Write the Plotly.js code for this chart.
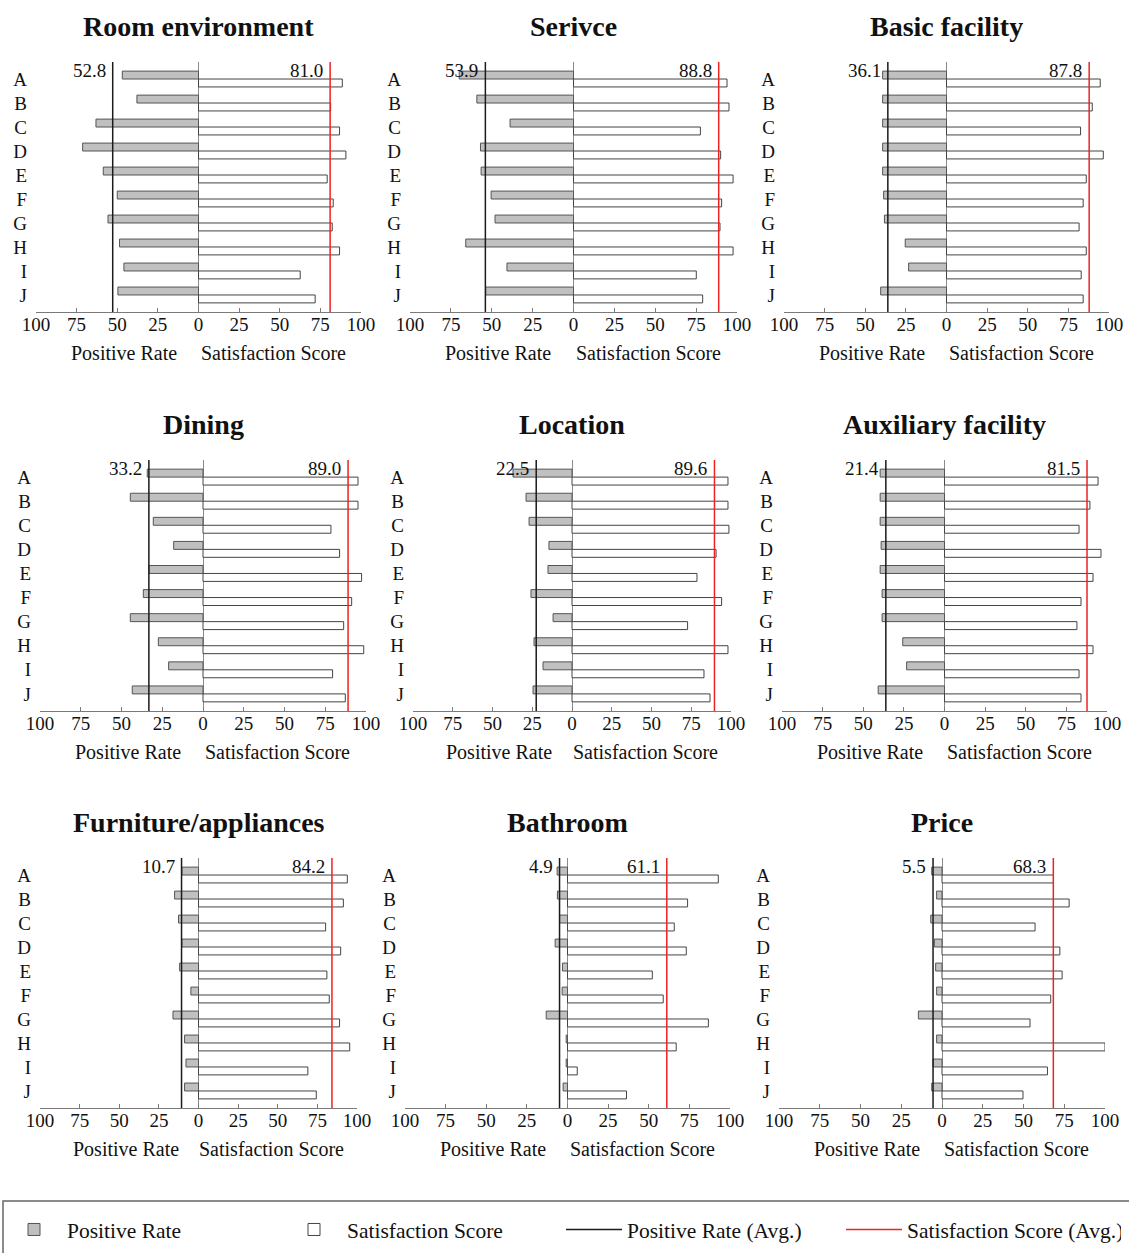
<!DOCTYPE html>
<html><head><meta charset="utf-8">
<script src="https://cdn.plot.ly/plotly-3.0.1.min.js"></script>
<style>html,body{margin:0;padding:0;background:#fff}#chart{width:1129px;height:1253px}</style>
</head><body><div id="chart"></div>
<script>
// ---------- data ----------
const categories = ['A','B','C','D','E','F','G','H','I','J'];
const panelTitles = ['Room environment','Serivce','Basic facility','Dining','Location','Auxiliary facility','Furniture/appliances','Bathroom','Price'];

const posRoom      = [46.9, 37.9, 63.1, 71.3, 58.6, 50.0, 55.7, 48.6, 45.9, 49.6];
const satRoom      = [88.5, 81.3, 86.8, 90.7, 79.2, 82.9, 82.3, 86.8, 62.6, 71.8];
const posService   = [69.9, 59.1, 38.8, 56.9, 56.5, 50.4, 48.0, 65.9, 40.7, 53.7];
const satService   = [93.9, 95.1, 77.6, 90.0, 97.6, 90.6, 89.6, 97.6, 75.1, 79.0];
const posBasic     = [39.3, 39.3, 39.3, 39.3, 39.3, 38.7, 38.2, 25.4, 23.3, 40.5];
const satBasic     = [94.6, 89.7, 82.5, 96.5, 86.0, 84.1, 81.6, 86.0, 82.9, 84.1];
const posDining    = [34.2, 44.6, 30.5, 18.0, 33.1, 36.6, 44.6, 27.4, 21.1, 43.4];
const satDining    = [95.1, 95.1, 78.5, 83.8, 97.3, 91.2, 86.3, 98.6, 79.5, 87.3];
const posLocation  = [37.1, 28.9, 27.0, 14.5, 15.1, 25.8, 11.9, 23.9, 18.2, 24.5];
const satLocation  = [98.1, 98.1, 98.7, 90.6, 78.6, 94.1, 72.7, 98.1, 83.0, 86.8];
const posAuxiliary = [39.6, 39.6, 39.6, 39.0, 39.6, 38.4, 38.4, 25.7, 23.3, 40.8];
const satAuxiliary = [94.5, 89.5, 82.8, 96.3, 91.4, 84.0, 81.5, 91.4, 82.8, 84.0];
const posFurniture = [10.5, 15.1, 12.6, 10.5, 11.9, 4.8, 16.1, 8.8, 7.9, 8.8];
const satFurniture = [93.9, 91.4, 80.2, 89.7, 81.0, 82.5, 89.0, 95.4, 69.0, 74.3];
const posBathroom  = [6.4, 6.2, 4.9, 7.6, 3.1, 3.3, 13.1, 0.8, 0.8, 2.7];
const satBathroom  = [92.8, 73.9, 65.7, 73.1, 52.2, 58.9, 86.7, 66.9, 6.0, 36.3];
const posPrice     = [6.3, 3.3, 6.9, 4.7, 3.9, 3.3, 14.5, 3.3, 5.5, 6.3];
const satPrice     = [68.4, 78.0, 57.1, 72.3, 73.7, 66.7, 54.0, 100.0, 64.7, 49.7];

// average lines (as drawn) and their printed labels
const posAvgLine  = [52.8, 53.9, 36.1, 33.2, 22.5, 36.1, 10.7, 4.9, 5.5];
const satAvgLine  = [81.0, 88.8, 87.8, 89.0, 89.6, 87.7, 84.2, 61.1, 68.3];
const posAvgLabel = ['52.8','53.9','36.1','33.2','22.5','21.4','10.7','4.9','5.5'];
const satAvgLabel = ['81.0','88.8','87.8','89.0','89.6','81.5','84.2','61.1','68.3'];

const tickVals  = [-100, -75, -50, -25, 0, 25, 50, 75, 100];
const tickTexts = ['100','75','50','25','0','25','50','75','100'];

const positiveSeries = [posRoom, posService, posBasic, posDining, posLocation, posAuxiliary, posFurniture, posBathroom, posPrice];
const satisfactionSeries = [satRoom, satService, satBasic, satDining, satLocation, satAuxiliary, satFurniture, satBathroom, satPrice];

// ---------- layout geometry (pixels) ----------
const W = 1129, H = 1253;
const boxes = [
  [36, 361, 62, 312], [410, 737, 62, 312], [784, 1109, 62, 312],
  [40, 366, 460, 711], [413, 731, 460, 711], [782, 1107, 460, 711],
  [40, 357, 858, 1108], [405, 730, 858, 1108], [779, 1105, 858, 1108]
];
const FONT = 'Liberation Serif, Times New Roman, serif';

const traces = [];
const layout = {
  width: W, height: H,
  margin: {l: 0, r: 0, t: 0, b: 0},
  paper_bgcolor: '#fff', plot_bgcolor: 'rgba(0,0,0,0)',
  font: {family: FONT, size: 19, color: '#111'},
  barmode: 'overlay',
  showlegend: true,
  legend: {
    orientation: 'h', x: 1 / W, xanchor: 'left', y: (H - 1209) / H, yanchor: 'top',
    entrywidth: 209, entrywidthmode: 'pixels', itemwidth: 56,
    font: {family: FONT, size: 21.5, color: '#111'},
    bgcolor: 'rgba(0,0,0,0)', borderwidth: 0
  },
  shapes: [], annotations: []
};

boxes.forEach((b, i) => {
  const n = i + 1;
  const xa = 'xaxis' + (n === 1 ? '' : n), ya = 'yaxis' + (n === 1 ? '' : n);
  const xr = 'x' + (n === 1 ? '' : n), yr = 'y' + (n === 1 ? '' : n);
  layout[xa] = {
    domain: [b[0] / W, b[1] / W], anchor: yr,
    range: [-100, 100], fixedrange: true,
    tickmode: 'array', tickvals: tickVals, ticktext: tickTexts,
    ticks: 'inside', ticklen: 4, tickcolor: '#7a7a7a', tickwidth: 1,
    ticklabelstandoff: -5,
    showline: true, linecolor: '#7a7a7a', linewidth: 1,
    showgrid: false, zeroline: true, zerolinecolor: '#8a8a8a', zerolinewidth: 1,
    tickfont: {family: FONT, size: 19, color: '#111'}
  };
  layout[ya] = {
    domain: [1 - b[3] / H, 1 - b[2] / H], anchor: xr,
    type: 'category', categoryorder: 'array', categoryarray: categories,
    range: [categories.length - 1 + 0.71, -0.71], fixedrange: true,
    showline: false, showgrid: false, zeroline: false, ticks: '',
    ticklabelstandoff: 8,
    tickfont: {family: FONT, size: 19, color: '#111'}
  };
  traces.push({
    type: 'bar', orientation: 'h', xaxis: xr, yaxis: yr,
    y: categories, x: positiveSeries[i].map(v => -v),
    width: 0.33, offset: -0.33,
    marker: {color: '#c0c0c0', line: {color: '#555', width: 1}},
    name: 'Positive Rate', legendgroup: 'pr', showlegend: i === 0, hoverinfo: 'skip'
  });
  traces.push({
    type: 'bar', orientation: 'h', xaxis: xr, yaxis: yr,
    y: categories, x: satisfactionSeries[i],
    width: 0.33, offset: 0,
    marker: {color: '#ffffff', line: {color: '#444', width: 1}},
    name: 'Satisfaction Score', legendgroup: 'ss', showlegend: i === 0, hoverinfo: 'skip'
  });
  layout.shapes.push({
    type: 'line', xref: xr, yref: yr + ' domain',
    x0: -posAvgLine[i], x1: -posAvgLine[i], y0: 0, y1: 1,
    line: {color: '#1a1a1a', width: 1.5},
    name: 'Positive Rate (Avg.)', showlegend: i === 0, legendgroup: 'pra'
  });
  layout.shapes.push({
    type: 'line', xref: xr, yref: yr + ' domain',
    x0: satAvgLine[i], x1: satAvgLine[i], y0: 0, y1: 1,
    line: {color: '#ee2222', width: 1.5},
    name: 'Satisfaction Score (Avg.)', showlegend: i === 0, legendgroup: 'ssa'
  });
  // titles
  layout.annotations.push({
    xref: xr, yref: yr + ' domain', x: 0, y: 1, yanchor: 'bottom', xanchor: 'center',
    yshift: 18, showarrow: false, text: '<b>' + panelTitles[i] + '</b>',
    font: {family: FONT, size: 28, color: '#111'}
  });
  // avg labels
  layout.annotations.push({
    xref: xr, yref: yr + ' domain', x: -posAvgLine[i], y: 1, xanchor: 'right', yanchor: 'top',
    xshift: -5, yshift: 4, showarrow: false, text: posAvgLabel[i],
    font: {family: FONT, size: 19, color: '#111'}
  });
  layout.annotations.push({
    xref: xr, yref: yr + ' domain', x: satAvgLine[i], y: 1, xanchor: 'right', yanchor: 'top',
    xshift: -5, yshift: 4, showarrow: false, text: satAvgLabel[i],
    font: {family: FONT, size: 19, color: '#111'}
  });
  // axis titles
  layout.annotations.push({
    xref: xr, yref: yr + ' domain', x: -46, y: 0, xanchor: 'center', yanchor: 'middle',
    yshift: -41, showarrow: false, text: 'Positive Rate',
    font: {family: FONT, size: 20, color: '#111'}
  });
  layout.annotations.push({
    xref: xr, yref: yr + ' domain', x: 46, y: 0, xanchor: 'center', yanchor: 'middle',
    yshift: -41, showarrow: false, text: 'Satisfaction Score',
    font: {family: FONT, size: 20, color: '#111'}
  });
});

// legend frame
layout.shapes.push({
  type: 'rect', xref: 'paper', yref: 'paper',
  x0: 3 / W, x1: 1.02, y0: -0.05, y1: (H - 1201) / H,
  line: {color: '#666', width: 1.5}, fillcolor: 'rgba(0,0,0,0)', layer: 'below'
});

Plotly.newPlot('chart', traces, layout, {staticPlot: true, displayModeBar: false});
</script>
</body></html>
